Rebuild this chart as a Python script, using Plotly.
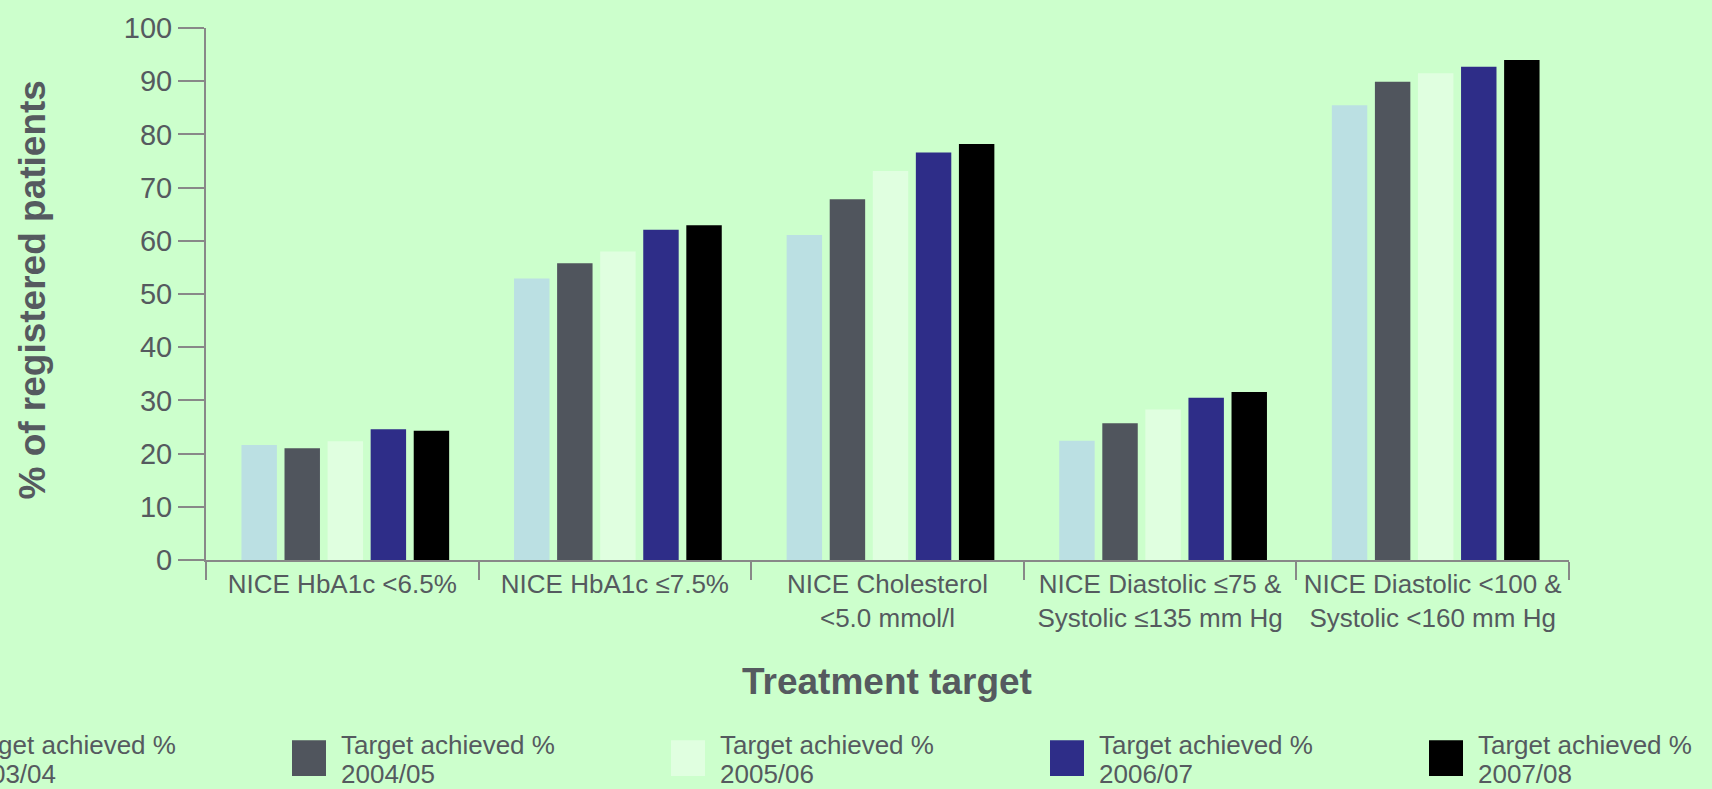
import plotly.graph_objects as go

# Treatment targets (x categories)
categories = [
    "NICE HbA1c <6.5%",
    "NICE HbA1c ≤7.5%",
    "NICE Cholesterol<br><5.0 mmol/l",
    "NICE Diastolic ≤75 &<br>Systolic ≤135 mm Hg",
    "NICE Diastolic <100 &<br>Systolic <160 mm Hg",
]

# Percentage of registered patients achieving each target, by year
years = ["2003/04", "2004/05", "2005/06", "2006/07", "2007/08"]
achieved_2003_04 = [21.6, 52.9, 61.1, 22.4, 85.5]
achieved_2004_05 = [21.0, 55.8, 67.8, 25.7, 89.9]
achieved_2005_06 = [22.3, 58.0, 73.1, 28.3, 91.5]
achieved_2006_07 = [24.6, 62.1, 76.6, 30.5, 92.7]
achieved_2007_08 = [24.3, 62.9, 78.2, 31.6, 94.0]

y_ticks = [0, 10, 20, 30, 40, 50, 60, 70, 80, 90, 100]

series = [achieved_2003_04, achieved_2004_05, achieved_2005_06,
          achieved_2006_07, achieved_2007_08]
colors = ["#bbe0e3", "#50555d", "#e0ffe0", "#2e2d88", "#000000"]

BG = "#ccffcc"
TEXT = "#555a5f"
AXIS = "#888888"
FONT = "Liberation Sans, Arial, sans-serif"

W, H = 1712, 789
L, R, T, B = 206, 143, 23, 229
PW, PH = W - L - R, H - T - B

# bar placement inside each category slot (category units)
BAR_W = 0.13
FIRST_OFFSET = -0.37
BAR_STEP = 0.158


def px_x(px):
    return (px - L) / PW


def px_y(py):
    return (H - B - py) / PH


fig = go.Figure()
for i, (yr, vals, col) in enumerate(zip(years, series, colors)):
    fig.add_trace(go.Bar(
        x=categories, y=vals, name="Target achieved %<br>" + yr,
        width=BAR_W, offset=FIRST_OFFSET + i * BAR_STEP,
        marker=dict(color=col, line=dict(width=0)),
        showlegend=False,
    ))

# Legend drawn as swatches plus two text lines per entry
annotations = []
shapes = []
left0, step = -87, 379
for i, (yr, col) in enumerate(zip(years, colors)):
    x0 = left0 + i * step
    shapes.append(dict(
        type="rect", xref="paper", yref="paper",
        x0=px_x(x0), x1=px_x(x0 + 34), y0=px_y(778), y1=px_y(742),
        fillcolor=col, line=dict(width=0), layer="above",
    ))
    for txt, yc in (("Target achieved %", 747), (yr, 776)):
        annotations.append(dict(
            text=txt, xref="paper", yref="paper",
            x=px_x(x0 + 47), y=px_y(yc), xanchor="left", yanchor="middle",
            showarrow=False, font=dict(family=FONT, size=26, color=TEXT),
        ))

# Axis titles
annotations.append(dict(
    text="<b>Treatment target</b>", xref="paper", yref="paper",
    x=px_x(887), y=px_y(683), xanchor="center", yanchor="middle",
    showarrow=False, font=dict(family=FONT, size=37, color=TEXT),
))
annotations.append(dict(
    text="<b>% of registered patients</b>", xref="paper", yref="paper",
    x=px_x(33), y=px_y(288), xanchor="center", yanchor="middle",
    textangle=-90, showarrow=False,
    font=dict(family=FONT, size=37, color=TEXT),
))

fig.update_layout(
    width=W, height=H,
    margin=dict(l=L, r=R, t=T, b=B, pad=0),
    paper_bgcolor=BG, plot_bgcolor=BG,
    barmode="group",
    showlegend=False,
    annotations=annotations, shapes=shapes,
    font=dict(family=FONT, color=TEXT),
)

fig.update_xaxes(
    type="category", showgrid=False, zeroline=False,
    showline=True, linecolor=AXIS, linewidth=2,
    ticks="outside", tickson="boundaries", ticklen=18,
    tickcolor=AXIS, tickwidth=2,
    tickfont=dict(family=FONT, size=26, color=TEXT),
)
fig.update_yaxes(
    range=[0, 100], tickvals=y_ticks, showgrid=False, zeroline=False,
    showline=True, linecolor=AXIS, linewidth=2,
    ticks="outside", ticklen=26, tickcolor=AXIS, tickwidth=2,
    tickfont=dict(family=FONT, size=29, color=TEXT),
)

fig.write_html("out.html")
